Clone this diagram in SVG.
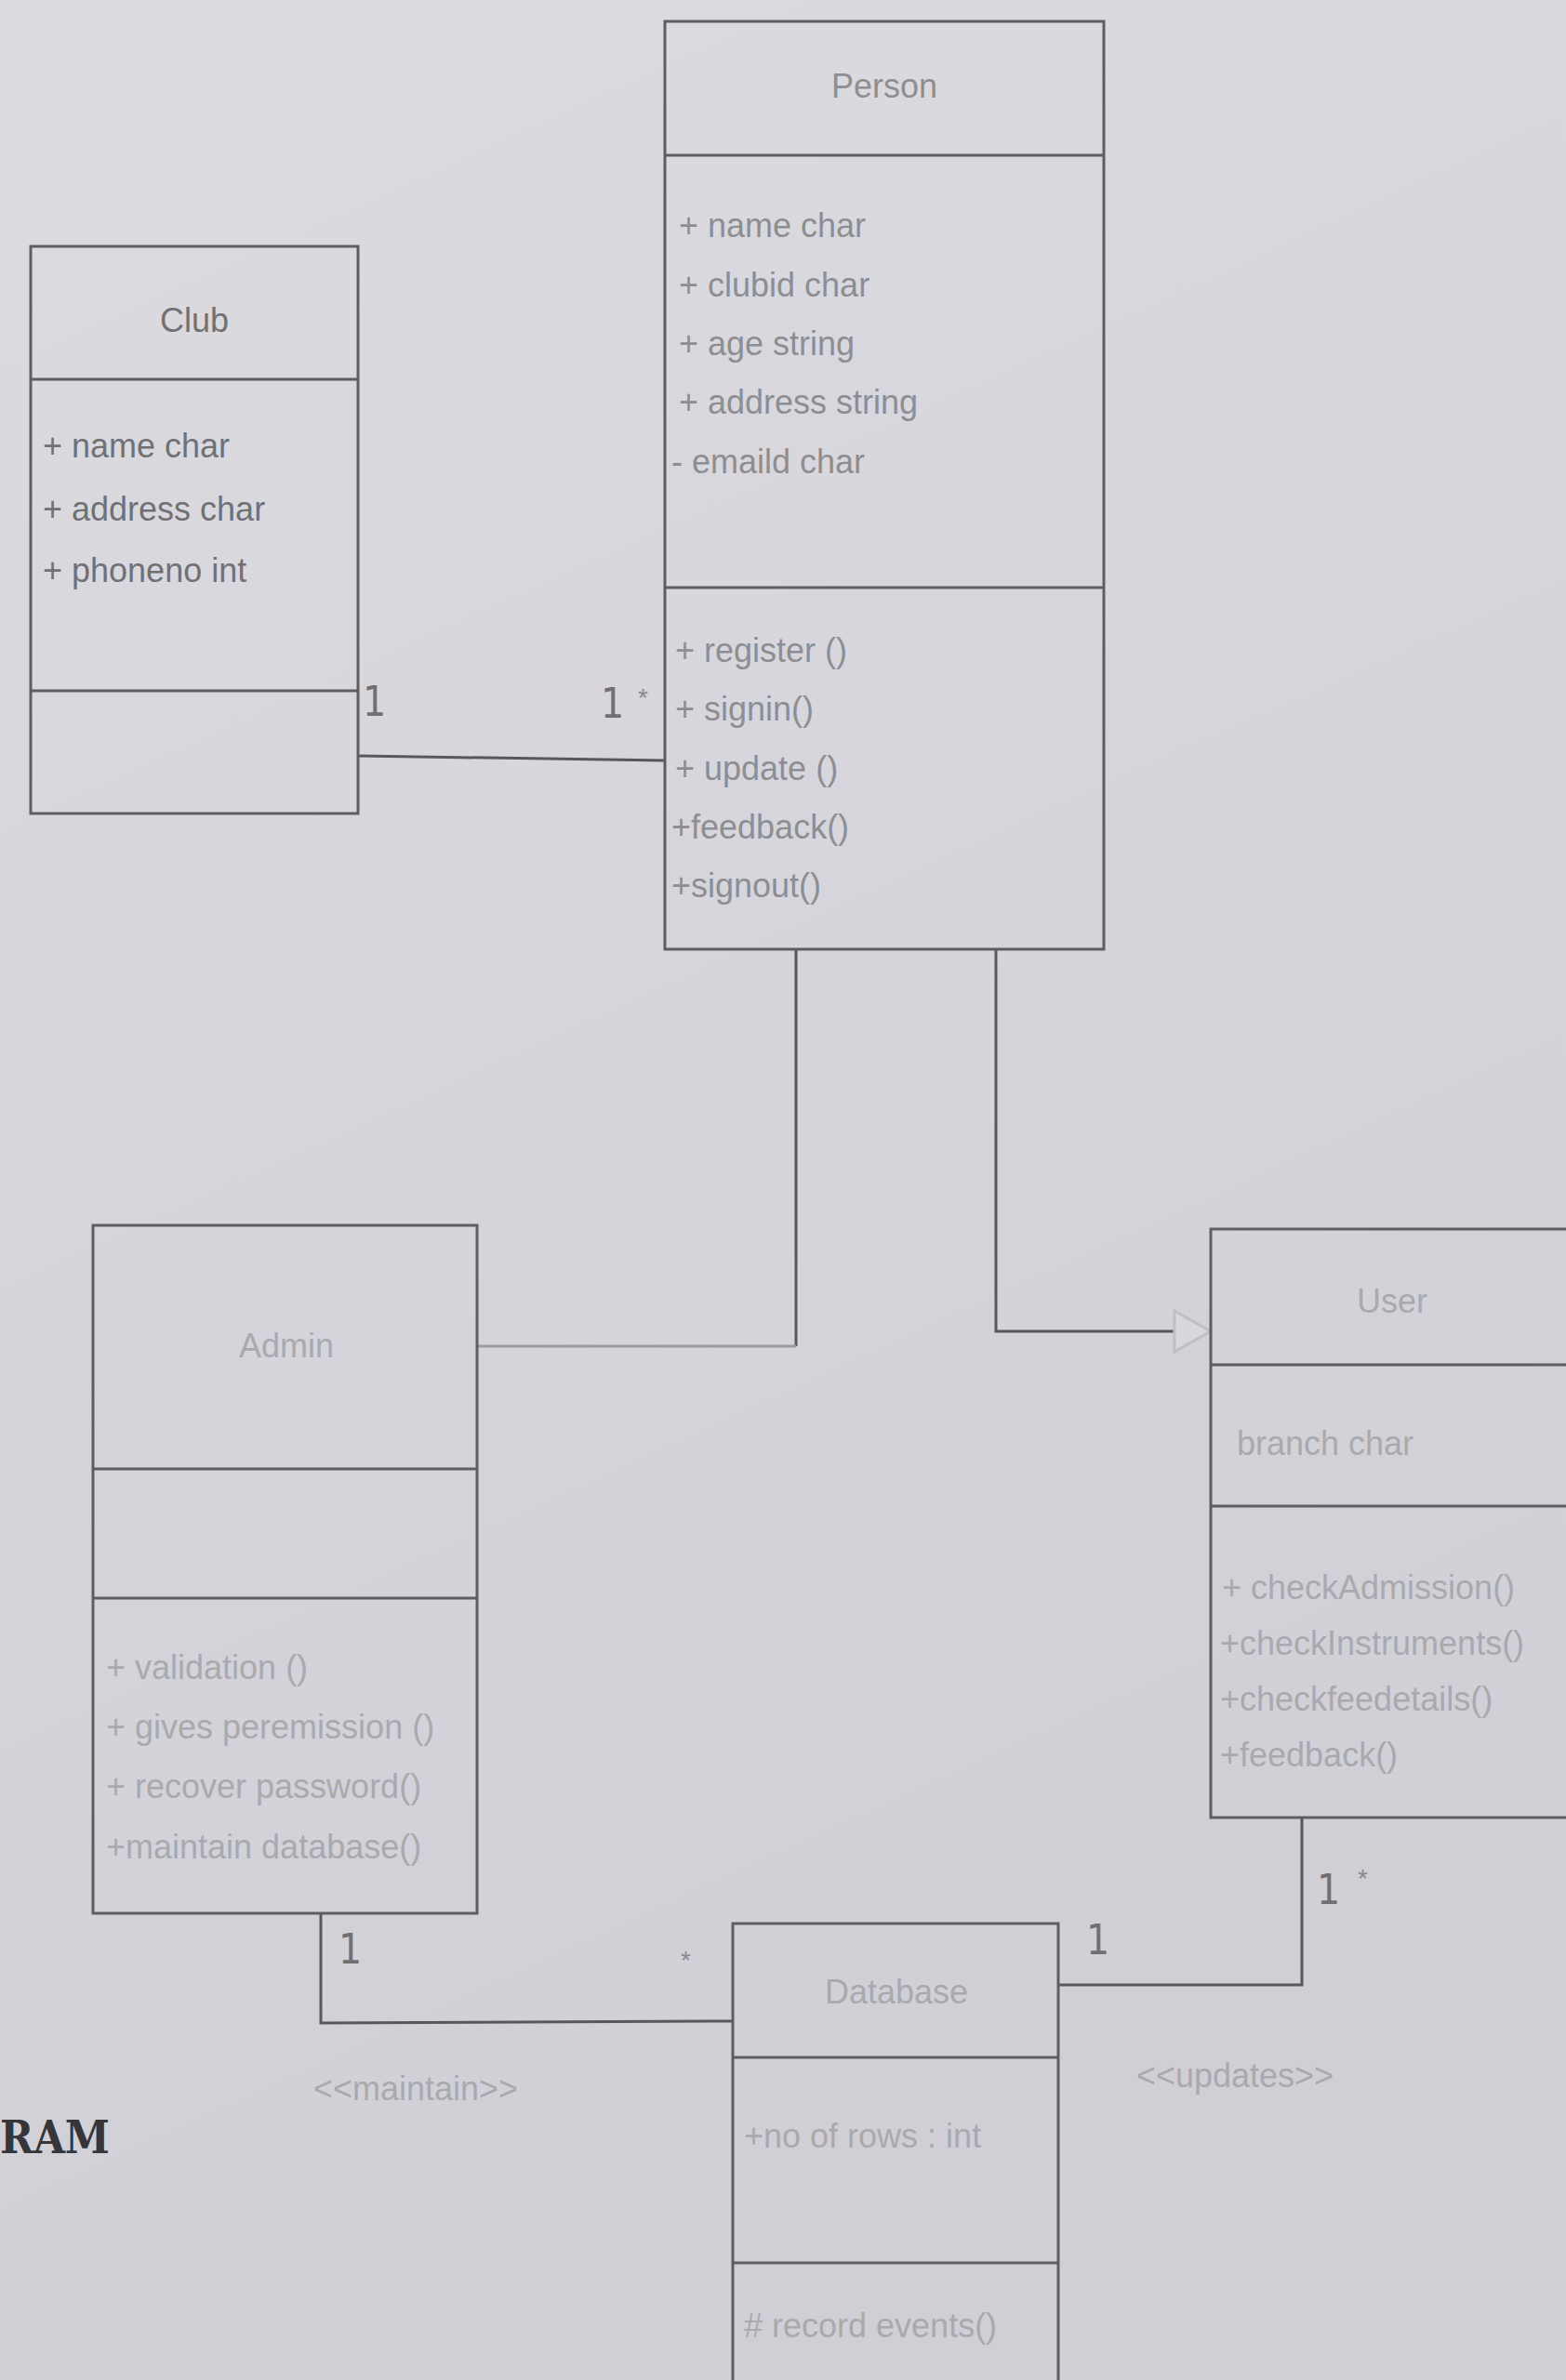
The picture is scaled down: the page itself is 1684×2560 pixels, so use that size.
<svg xmlns="http://www.w3.org/2000/svg" width="1684" height="2560" viewBox="0 0 1684 2560">
  <defs>
    <linearGradient id="bg" x1="0" y1="0" x2="0.3" y2="1">
      <stop offset="0" stop-color="#dcdbe0"/>
      <stop offset="1" stop-color="#d0cfd6"/>
    </linearGradient>
    <style>
      .box { fill: none; stroke: #5e5e60; stroke-width: 3; }
      .div { stroke: #5e5e60; stroke-width: 3; }
      .t { font-family: "Liberation Sans", Arial, sans-serif; font-size: 36px; }
      .title { text-anchor: middle; }
      .person { fill: #8e8e92; }
      .club { fill: #717175; }
      .faint { fill: #a9a9ae; }
      .conn { fill: none; stroke: #58585a; stroke-width: 3; }
      .connf { fill: none; stroke: #9a9aa0; stroke-width: 3; }
      .mult { font-family: "DejaVu Sans Condensed", "DejaVu Sans", sans-serif; font-weight: 300; font-size: 44px; fill: #707074; }
      .star { font-family: "Liberation Sans", Arial, sans-serif; font-size: 28px; fill: #8a8a8e; }
    </style>
  </defs>
  <rect x="0" y="0" width="1684" height="2560" fill="url(#bg)"/>

  <g id="connectors">
    <line class="conn" x1="385" y1="813" x2="715" y2="818"/>
    <polyline class="conn" points="856,1021 856,1448"/>
    <line class="connf" x1="856" y1="1448" x2="513" y2="1448"/>
    <polyline class="conn" points="1071,1021 1071,1432 1263,1432"/>
    <polygon points="1263,1410 1302,1432 1263,1454" fill="#d8d7dc" stroke="#c0bfc5" stroke-width="3"/>
    <polyline class="conn" points="345,2058 345,2176 788,2174"/>
    <polyline class="conn" points="1138,2135 1400,2135 1400,1955"/>
    <text class="mult" x="390" y="770">1</text>
    <text class="mult" x="646" y="772">1</text>
    <text class="star" x="686" y="760">*</text>
    <text class="mult" x="364" y="2112">1</text>
    <text class="star" x="732" y="2118">*</text>
    <text class="mult" x="1168" y="2102">1</text>
    <text class="mult" x="1416" y="2048">1</text>
    <text class="star" x="1460" y="2030">*</text>
    <text class="t faint" x="447" y="2259" text-anchor="middle">&lt;&lt;maintain&gt;&gt;</text>
    <text class="t faint" x="1328" y="2245" text-anchor="middle">&lt;&lt;updates&gt;&gt;</text>
  </g>

  <g id="person">
    <rect class="box" x="715" y="23" width="472" height="998"/>
    <line class="div" x1="715" y1="167" x2="1187" y2="167"/>
    <line class="div" x1="715" y1="632" x2="1187" y2="632"/>
    <text class="t title person" x="951" y="105" fill="#a2a2a6">Person</text>
    <text class="t person" x="730" y="255">+ name  char</text>
    <text class="t person" x="730" y="319">+ clubid  char</text>
    <text class="t person" x="730" y="382">+ age  string</text>
    <text class="t person" x="730" y="445">+ address  string</text>
    <text class="t person" x="722" y="509">- emaild  char</text>
    <text class="t person" x="726" y="712">+ register ()</text>
    <text class="t person" x="726" y="775">+ signin()</text>
    <text class="t person" x="726" y="839">+ update ()</text>
    <text class="t person" x="722" y="902">+feedback()</text>
    <text class="t person" x="722" y="965">+signout()</text>
  </g>

  <g id="club">
    <rect class="box" x="33" y="265" width="352" height="610"/>
    <line class="div" x1="33" y1="408" x2="385" y2="408"/>
    <line class="div" x1="33" y1="743" x2="385" y2="743"/>
    <text class="t title club" x="209" y="357">Club</text>
    <text class="t club" x="46" y="492">+  name  char</text>
    <text class="t club" x="46" y="560">+  address  char</text>
    <text class="t club" x="46" y="626">+ phoneno  int</text>
  </g>

  <g id="admin">
    <rect class="box" x="100" y="1318" width="413" height="740" stroke="#7a7a7e"/>
    <line class="div" x1="100" y1="1580" x2="513" y2="1580" stroke="#7a7a7e"/>
    <line class="div" x1="100" y1="1719" x2="513" y2="1719" stroke="#7a7a7e"/>
    <text class="t title faint" x="308" y="1460">Admin</text>
    <text class="t faint" x="114" y="1806" font-size="34">+ validation ()</text>
    <text class="t faint" x="114" y="1870" font-size="34">+ gives peremission ()</text>
    <text class="t faint" x="114" y="1934" font-size="34">+ recover password()</text>
    <text class="t faint" x="114" y="1999" font-size="34">+maintain database()</text>
  </g>

  <g id="user">
    <rect class="box" x="1302" y="1322" width="390" height="633"/>
    <line class="div" x1="1302" y1="1468" x2="1692" y2="1468"/>
    <line class="div" x1="1302" y1="1620" x2="1692" y2="1620"/>
    <text class="t title faint" x="1497" y="1412">User</text>
    <text class="t faint" x="1330" y="1565">branch  char</text>
    <text class="t faint" x="1314" y="1720" font-size="34">+ checkAdmission()</text>
    <text class="t faint" x="1312" y="1780" font-size="34">+checkInstruments()</text>
    <text class="t faint" x="1312" y="1840" font-size="34">+checkfeedetails()</text>
    <text class="t faint" x="1312" y="1900" font-size="34">+feedback()</text>
  </g>

  <g id="database">
    <rect class="box" x="788" y="2069" width="350" height="520" stroke="#7a7a7e"/>
    <line class="div" x1="788" y1="2213" x2="1138" y2="2213" stroke="#7a7a7e"/>
    <line class="div" x1="788" y1="2434" x2="1138" y2="2434" stroke="#7a7a7e"/>
    <text class="t title faint" x="964" y="2155">Database</text>
    <text class="t faint" x="800" y="2310" font-size="32">+no of rows : int</text>
    <text class="t faint" x="800" y="2514" font-size="32"># record events()</text>
  </g>

  <text x="0" y="2316" font-family="DejaVu Serif, Liberation Serif, serif" font-weight="bold" font-size="48" textLength="118" lengthAdjust="spacingAndGlyphs" fill="#35353a">RAM</text>
</svg>
